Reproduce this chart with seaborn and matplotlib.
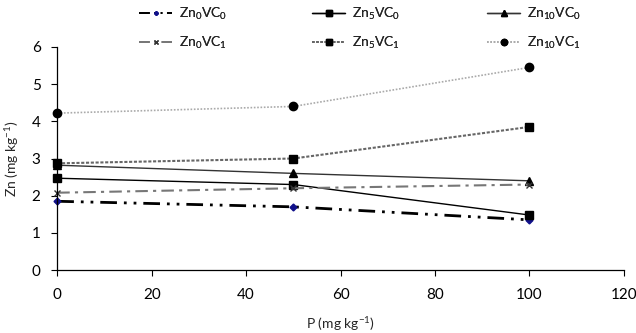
import pandas as pd
import matplotlib
matplotlib.use('Agg')
import matplotlib.pyplot as plt
import seaborn as sns

# Data
p_levels = [0, 50, 100]
series_names = ['Zn$_0$VC$_0$', 'Zn$_5$VC$_0$', 'Zn$_{10}$VC$_0$',
                'Zn$_0$VC$_1$', 'Zn$_5$VC$_1$', 'Zn$_{10}$VC$_1$']
zn0_vc0 = [1.85, 1.70, 1.35]
zn5_vc0 = [2.47, 2.30, 1.48]
zn10_vc0 = [2.82, 2.60, 2.40]
zn0_vc1 = [2.08, 2.20, 2.30]
zn5_vc1 = [2.87, 3.00, 3.85]
zn10_vc1 = [4.22, 4.40, 5.45]
values = [zn0_vc0, zn5_vc0, zn10_vc0, zn0_vc1, zn5_vc1, zn10_vc1]

rows = []
for name, vals in zip(series_names, values):
    for p, v in zip(p_levels, vals):
        rows.append({'P': p, 'Zn': v, 'serie': name})
df = pd.DataFrame(rows)

styles = {
    series_names[0]: dict(color='black', lw=2.0, dashes=(6, 2.5, 1, 2.5, 1, 2.5),
                          marker='D', ms=3.5, mfc='#10108a', mec='#10108a'),
    series_names[1]: dict(color='black', lw=1.0, dashes=(None, None),
                          marker='s', ms=5.5, mfc='black', mec='black'),
    series_names[2]: dict(color='#333333', lw=1.0, dashes=(None, None),
                          marker='^', ms=6, mfc='black', mec='black'),
    series_names[3]: dict(color='#777777', lw=1.5, dashes=(6, 2.5, 1.5, 2.5),
                          marker='x', ms=5, mfc='#333333', mec='#333333'),
    series_names[4]: dict(color='#666666', lw=1.5, dashes=(1.5, 0.8),
                          marker='s', ms=5.5, mfc='black', mec='black'),
    series_names[5]: dict(color='#aaaaaa', lw=1.2, dashes=(1, 1),
                          marker='o', ms=6, mfc='black', mec='black'),
}

sns.set_style('ticks')
plt.rcParams['font.family'] = ['Lato', 'DejaVu Sans']
plt.rcParams['mathtext.fontset'] = 'custom'
plt.rcParams['mathtext.rm'] = 'Lato'
plt.rcParams['mathtext.it'] = 'Lato'

fig = plt.figure(figsize=(6.36, 3.33), dpi=100)
ax = fig.add_axes([0.090, 0.189, 0.891, 0.670])

handles = []
for name in series_names:
    s = styles[name]
    sub = df[df['serie'] == name]
    sns.lineplot(data=sub, x='P', y='Zn', ax=ax, color=s['color'], lw=s['lw'],
                 marker=s['marker'], markersize=s['ms'], markerfacecolor=s['mfc'],
                 markeredgecolor=s['mec'], markeredgewidth=1.0, legend=False)
    line = ax.get_lines()[-1]
    if s['dashes'][0] is not None:
        line.set_dashes(s['dashes'])
    line.set_clip_on(False)
    h, = ax.plot([], [], color=s['color'], lw=min(s['lw'], 1.3), marker=s['marker'],
                 markersize=s['ms'] - 1.5, markerfacecolor=s['mfc'],
                 markeredgecolor=s['mec'])
    if s['dashes'][0] is not None:
        h.set_dashes(s['dashes'])
    handles.append(h)

ax.set_xlim(0, 120)
ax.set_ylim(0, 6)
ax.set_xticks(range(0, 121, 20))
ax.set_yticks(range(0, 7))
ax.set_xlabel('P (mg kg$^{-1}$)', fontsize=10, labelpad=9)
ax.set_ylabel('Zn (mg kg$^{-1}$)', fontsize=10, labelpad=8)
ax.tick_params(labelsize=11, length=4, width=0.8, colors='black')
ax.tick_params(axis='x', pad=9)
ax.tick_params(axis='y', pad=8)
for sp in ['left', 'bottom']:
    ax.spines[sp].set_linewidth(0.9)
    ax.spines[sp].set_color('black')
sns.despine(ax=ax)

# Legend: three columns of two entries, placed one column at a time
col_x = [128, 301, 476]
for c in range(3):
    leg = fig.legend([handles[c], handles[c + 3]], [series_names[c], series_names[c + 3]],
                     loc='upper left', bbox_to_anchor=(col_x[c] / 636, 1.015),
                     frameon=False, fontsize=10, handlelength=2.4,
                     handletextpad=0.5, labelspacing=0.9, borderpad=0.3)
    fig.add_artist(leg)

fig.savefig('out.png', dpi=100)
